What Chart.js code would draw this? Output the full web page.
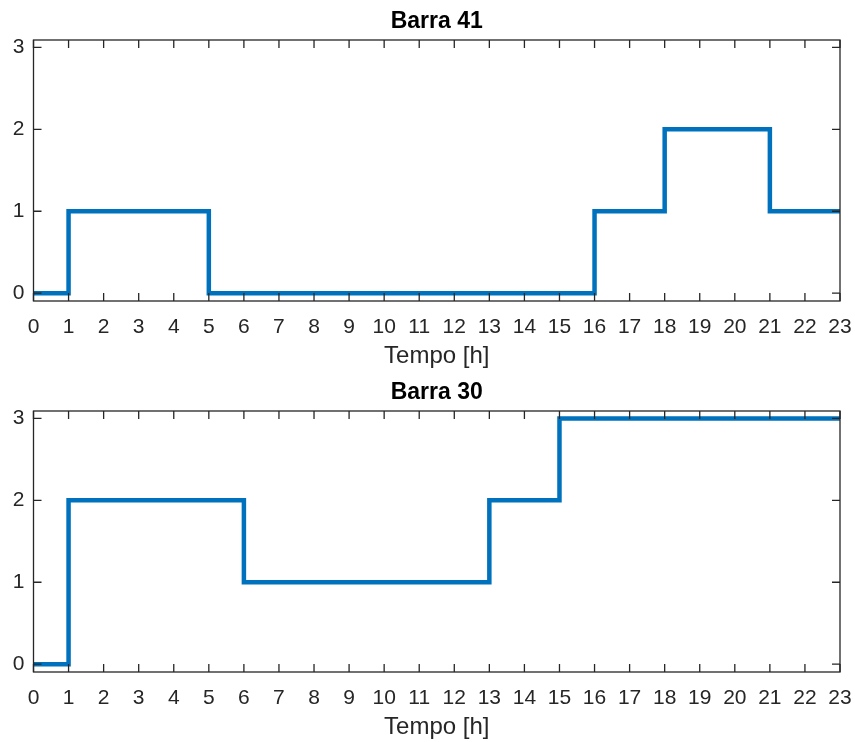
<!DOCTYPE html>
<html>
<head>
<meta charset="utf-8">
<script src="https://cdn.jsdelivr.net/npm/chart.js@4/dist/chart.umd.min.js"></script>
<style>
  html, body { margin: 0; padding: 0; background: #fff; }
  canvas { display: block; }
</style>
</head>
<body>
<canvas id="c41" width="855" height="371"></canvas>
<canvas id="c30" width="855" height="371"></canvas>
<script>
// Hour of the day (stairs start points)
const hours = [0, 1, 2, 3, 4, 5, 6, 7, 8, 9, 10, 11, 12, 13, 14, 15, 16, 17, 18, 19, 20, 21, 22, 23];
const xTickLabels = ['0', '1', '2', '3', '4', '5', '6', '7', '8', '9', '10', '11',
                     '12', '13', '14', '15', '16', '17', '18', '19', '20', '21', '22', '23'];
const yTickValues = [0, 1, 2, 3];

// Step level held from each hour to the next
const barra41 = [0, 1, 1, 1, 1, 0, 0, 0, 0, 0, 0, 0, 0, 0, 0, 0, 1, 1, 2, 2, 2, 1, 1, 1];
const barra30 = [0, 2, 2, 2, 2, 2, 1, 1, 1, 1, 1, 1, 1, 2, 2, 3, 3, 3, 3, 3, 3, 3, 3, 3];

const FONT = "'Liberation Sans', Arial, Helvetica, sans-serif";
const AXIS_COLOR = '#262626';
const TICK_LEN = 8;

Chart.defaults.font.family = FONT;
Chart.defaults.color = AXIS_COLOR;

// Boxed axes with inward-pointing ticks on all four sides
const boxTicks = {
  id: 'boxTicks',
  afterDatasetsDraw(chart) {
    const { ctx, chartArea: a, scales: { x, y } } = chart;
    ctx.save();
    ctx.strokeStyle = AXIS_COLOR;
    ctx.lineWidth = 1.3;
    ctx.beginPath();
    x.ticks.forEach(t => {
      const px = x.getPixelForValue(t.value);
      ctx.moveTo(px, a.bottom); ctx.lineTo(px, a.bottom - TICK_LEN);
      ctx.moveTo(px, a.top); ctx.lineTo(px, a.top + TICK_LEN);
    });
    y.ticks.forEach(t => {
      const py = y.getPixelForValue(t.value);
      ctx.moveTo(a.left, py); ctx.lineTo(a.left + TICK_LEN, py);
      ctx.moveTo(a.right, py); ctx.lineTo(a.right - TICK_LEN, py);
    });
    ctx.stroke();
    ctx.strokeRect(a.left, a.top, a.right - a.left, a.bottom - a.top);
    ctx.restore();
  }
};

function makeStairs(canvasId, title, values) {
  return new Chart(document.getElementById(canvasId), {
    type: 'line',
    data: {
      datasets: [{
        data: hours.map((h, i) => ({ x: h, y: values[i] })),
        borderColor: '#0072BD',
        borderWidth: 4.5,
        stepped: 'before',
        pointRadius: 0,
        fill: false,
        clip: 6
      }]
    },
    options: {
      responsive: false,
      animation: false,
      layout: { padding: { left: 0, right: 15, top: 0, bottom: 0 } },
      plugins: {
        legend: { display: false },
        tooltip: { enabled: false },
        title: {
          display: true,
          text: title,
          fullSize: false,
          color: '#000',
          font: { size: 23, weight: 'bold', lineHeight: 1.2 },
          padding: { top: 8, bottom: 4.4 }
        }
      },
      scales: {
        x: {
          type: 'linear',
          min: 0,
          max: 23,
          grid: { display: false, drawTicks: false, tickLength: 0 },
          border: { display: false },
          afterBuildTicks: s => { s.ticks = hours.map(v => ({ value: v })); },
          afterFit: s => { s.height = 70; s.paddingLeft = 0; s.paddingRight = 0; },
          ticks: {
            autoSkip: false,
            maxRotation: 0,
            padding: 14,
            color: AXIS_COLOR,
            font: { size: 21 },
            callback: (v, i) => xTickLabels[i]
          },
          title: {
            display: true,
            text: 'Tempo [h]',
            color: AXIS_COLOR,
            font: { size: 24, lineHeight: 1.2 },
            padding: { top: 0, bottom: 0 }
          }
        },
        y: {
          min: -0.095,
          max: 3.09,
          grid: { display: false, drawTicks: false, tickLength: 0 },
          border: { display: false },
          afterBuildTicks: s => { s.ticks = yTickValues.map(v => ({ value: v })); },
          afterFit: s => { s.width = 33.5; },
          ticks: {
            padding: 9,
            color: AXIS_COLOR,
            font: { size: 21 },
            callback: v => String(v)
          }
        }
      }
    },
    plugins: [boxTicks]
  });
}

makeStairs('c41', 'Barra 41', barra41);
makeStairs('c30', 'Barra 30', barra30);
</script>
</body>
</html>
